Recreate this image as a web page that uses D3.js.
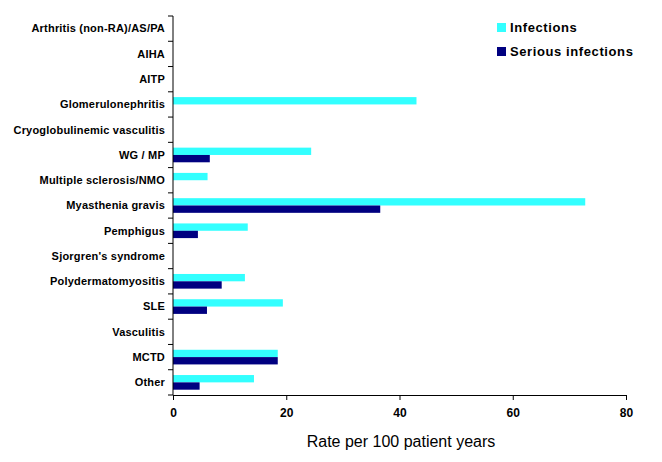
<!DOCTYPE html>
<html><head><meta charset="utf-8">
<script src="https://cdn.jsdelivr.net/npm/d3@7"></script>
<style>body{margin:0;background:#fff}svg{display:block}</style>
</head><body>
<script>
const categories = ["Arthritis (non-RA)/AS/PA","AIHA","AITP","Glomerulonephritis","Cryoglobulinemic vasculitis","WG / MP","Multiple sclerosis/NMO","Myasthenia gravis","Pemphigus","Sjorgren's syndrome","Polydermatomyositis","SLE","Vasculitis","MCTD","Other"];
const infections = [0,0,0,43.0,0,24.4,6.1,72.8,13.2,0,12.7,19.4,0,18.5,14.3];
const seriousInfections = [0,0,0,0,0,6.5,0,36.6,4.4,0,8.6,6.0,0,18.5,4.7];
const seriesNames = ["Infections","Serious infections"];
const colors = ["#33ffff","#000080"];
const xTicks = [0,20,40,60,80];

const W=662,H=462;
const svg=d3.select("body").append("svg").attr("width",W).attr("height",H);
const m={l:173,r:36,t:16,b:67};
const x=d3.scaleLinear().domain([0,80]).range([m.l,W-m.r]);
const y=d3.scaleBand().domain(categories).range([m.t,H-m.b]).paddingInner(0.42).paddingOuter(0.21);
const ys=d3.scaleBand().domain(seriesNames).range([0,y.bandwidth()]);
const series=[infections,seriousInfections];
const font="Liberation Sans, Arial, sans-serif";

const g=svg.append("g");
series.forEach((vals,si)=>{
  g.selectAll(null).data(categories.map((c,i)=>({c,v:vals[i]})).filter(d=>d.v>0)).enter()
   .append("rect").attr("x",x(0)).attr("y",d=>y(d.c)+ys(seriesNames[si]))
   .attr("width",d=>x(d.v)-x(0)).attr("height",ys.bandwidth()).attr("fill",colors[si]);
});

// y axis (ticks at band boundaries)
const ya=svg.append("g");
ya.append("line").attr("x1",x(0)).attr("x2",x(0)).attr("y1",m.t).attr("y2",H-m.b).attr("stroke","#000");
d3.range(categories.length+1).forEach(i=>{
  const yy=m.t+i*(H-m.b-m.t)/categories.length;
  ya.append("line").attr("x1",x(0)-5).attr("x2",x(0)).attr("y1",yy).attr("y2",yy).attr("stroke","#000");
});
categories.forEach((c,i)=>{
  const yy=m.t+(i+0.5)*(H-m.b-m.t)/categories.length;
  ya.append("text").attr("x",165).attr("y",yy).attr("dy","0.35em").attr("text-anchor","end")
    .attr("font-family",font).attr("font-weight","bold").attr("font-size","11px").attr("letter-spacing","0.2px").text(c);
});

// x axis
const xa=svg.append("g").attr("transform",`translate(0,${H-m.b})`)
  .call(d3.axisBottom(x).tickValues(xTicks).tickSize(5).tickSizeOuter(0).tickPadding(8));
xa.select(".domain").attr("stroke","#000");
xa.selectAll("line").attr("stroke","#000");
xa.selectAll("text").attr("font-family",font).attr("font-weight","bold").attr("font-size","12px").attr("fill","#000");

svg.append("text").attr("x",401).attr("y",447).attr("text-anchor","middle")
  .attr("font-family",font).attr("font-size","16px").text("Rate per 100 patient years");

// legend
seriesNames.forEach((s,i)=>{
  const ly=23+i*24;
  svg.append("rect").attr("x",497).attr("y",ly).attr("width",9).attr("height",9).attr("fill",colors[i]);
  svg.append("text").attr("x",510).attr("y",ly+9).attr("font-family",font)
    .attr("font-size","13px").attr("font-weight","bold").attr("letter-spacing","0.6px").text(s);
});
</script>
</body></html>
